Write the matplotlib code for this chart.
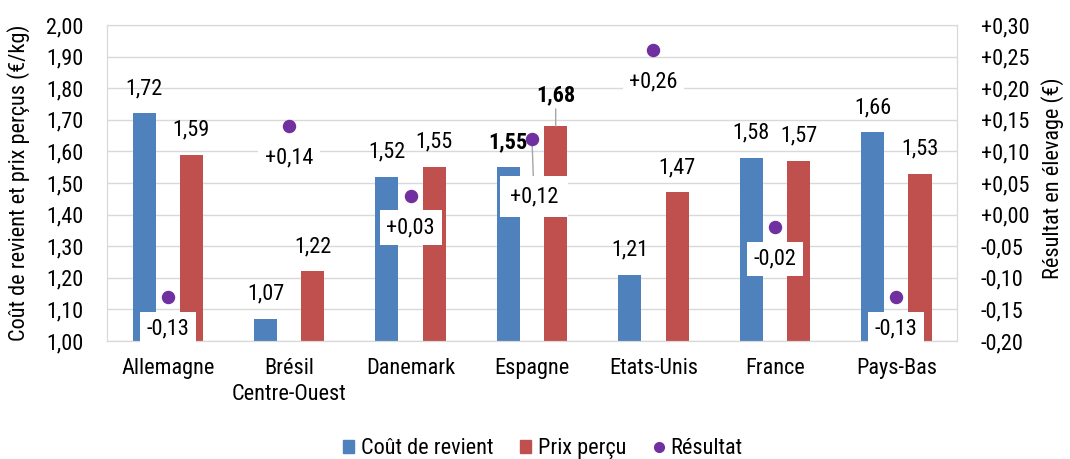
import numpy as np
import matplotlib.pyplot as plt
from matplotlib.patches import Patch
from matplotlib.lines import Line2D

pays = ['Allemagne', 'Brésil\nCentre-Ouest', 'Danemark', 'Espagne', 'Etats-Unis', 'France', 'Pays-Bas']
cout = [1.72, 1.07, 1.52, 1.55, 1.21, 1.58, 1.66]      # Coût de revient (€/kg)
prix = [1.59, 1.22, 1.55, 1.68, 1.47, 1.57, 1.53]      # Prix perçu (€/kg)
resultat = [-0.13, 0.14, 0.03, 0.12, 0.26, -0.02, -0.13]  # Résultat (€)

bleu = '#4F81BD'
rouge = '#C0504D'
violet = '#7030A0'
gris = '#D9D9D9'
trait = '#A6A6A6'

plt.rcParams['font.family'] = ['Roboto Condensed', 'PT Sans Narrow', 'DejaVu Sans']
plt.rcParams['font.size'] = 16


def fr(v):
    return f'{v:.2f}'.replace('.', ',')


def fr_signe(v):
    return f'{v:+.2f}'.replace('.', ',')


fig = plt.figure(figsize=(10.7, 4.59), dpi=100)
ax = fig.add_axes([0.100, 0.2571, 0.7944, 0.6884])
ax2 = ax.twinx()

x = np.arange(len(pays))
dx = 0.195
w = 0.19

ax.bar(x - dx, cout, w, color=bleu, zorder=2)
ax.bar(x + dx, prix, w, color=rouge, zorder=2)
ax.set_xlim(-0.5, len(pays) - 0.5)
ax.set_ylim(1.0, 2.0)
ax.set_yticks(np.arange(1.0, 2.01, 0.1))
ax.set_yticklabels([fr(t) for t in np.arange(1.0, 2.01, 0.1)])
ax.set_xticks(x)
ax.set_xticklabels(pays, linespacing=1.35)
ax.yaxis.grid(True, color=gris, lw=1)
ax.set_axisbelow(True)
ax.tick_params(axis='y', length=0, pad=17)
ax.tick_params(axis='x', length=0, pad=12)

ax2.set_ylim(-0.20, 0.30)
ticks2 = np.arange(-0.20, 0.301, 0.05)
ax2.set_yticks(ticks2)
ax2.set_yticklabels([fr_signe(round(t, 2) + 0.0) for t in ticks2])
ax2.tick_params(axis='y', length=0, pad=17)
for a in (ax, ax2):
    for s in a.spines.values():
        s.set_color(gris)

# étiquettes des barres
for i in range(len(pays)):
    gras = 'bold' if i == 3 else 'normal'
    ax.annotate(fr(cout[i]), (x[i] - dx, cout[i]), xytext=(0, 25),
                textcoords='offset pixels', ha='center', va='center',
                fontweight=gras, zorder=4)
    if i == 3:
        ax.annotate(fr(prix[i]), (x[i] + dx, prix[i]), xytext=(0, 31),
                    textcoords='offset pixels', ha='center', va='center',
                    fontweight='bold', zorder=4,
                    arrowprops=dict(arrowstyle='-', color=trait, lw=1,
                                    shrinkA=0, shrinkB=0))
    else:
        ax.annotate(fr(prix[i]), (x[i] + dx, prix[i]), xytext=(0, 25),
                    textcoords='offset pixels', ha='center', va='center',
                    zorder=4)

# résultat
ax2.scatter(x, resultat, s=75, color=violet, zorder=5)
for i in range(len(pays)):
    boite = dict(boxstyle='square,pad=0.3', fc='white', ec='none')
    if i == 3:
        ax2.annotate(fr_signe(resultat[i]), (x[i], resultat[i]), xytext=(2, -58),
                     textcoords='offset pixels', ha='center', va='center',
                     bbox=dict(boxstyle='square,pad=0.45', fc='white', ec='none'),
                     arrowprops=dict(arrowstyle='-', color=trait, lw=1,
                                     shrinkA=0, shrinkB=3), zorder=4)
    else:
        ax2.annotate(fr_signe(resultat[i]), (x[i], resultat[i]), xytext=(0, -32),
                     textcoords='offset pixels', ha='center', va='center',
                     bbox=boite, zorder=4)

fig.text(19 / 1070, 1 - 183 / 459, 'Coût de revient et prix perçus (€/kg)',
         rotation=90, ha='center', va='center')
fig.text(1053 / 1070, 1 - 178 / 459, 'Résultat en élevage (€)',
         rotation=90, ha='center', va='center')

poignees = [Patch(color=bleu), Patch(color=rouge),
            Line2D([], [], marker='o', ls='none', color=violet, markersize=7)]
fig.legend(poignees, ['Coût de revient', 'Prix perçu', 'Résultat'],
           loc='center', bbox_to_anchor=(0.5075, 0.022), ncol=3, frameon=False,
           handlelength=0.5, handleheight=0.5, handletextpad=0.3,
           columnspacing=1.2, borderpad=0)

fig.savefig('out.png', dpi=100)
